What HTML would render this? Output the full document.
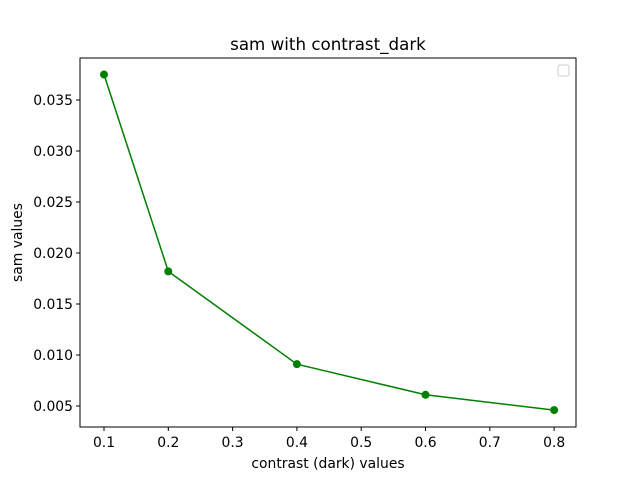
<!DOCTYPE html>
<html><head><meta charset="utf-8"><style>body{margin:0;background:#fff}svg{display:block;font-family:"DejaVu Sans","Liberation Sans",sans-serif}</style></head>
<body>
<svg id="c" width="640" height="480"></svg>
<script>
const xValues=[0.1,0.2,0.4,0.6,0.8];
const samValues=[0.0375,0.0182,0.0091,0.0061,0.0046];
const xTicks=[0.1,0.2,0.3,0.4,0.5,0.6,0.7,0.8];
const yTicks=[0.005,0.010,0.015,0.020,0.025,0.030,0.035];
const L=80,R=576,T=58,B=427;
const xMin=0.0627,xMax=0.834,yMin=0.00294,yMax=0.03912;
function sx(v){return L+(v-xMin)/(xMax-xMin)*(R-L);}
function sy(v){return B-(v-yMin)/(yMax-yMin)*(B-T);}
const svg=document.getElementById('c');const NS='http://www.w3.org/2000/svg';
function mk(t,a,p){const e=document.createElementNS(NS,t);for(const k in a)e.setAttribute(k,a[k]);(p||svg).appendChild(e);return e;}
let e;
e=mk('rect',{x:L,y:T,width:R-L,height:B-T,fill:'none',stroke:'#000','stroke-width':1});


xTicks.forEach(v=>{const x=sx(v);
e=mk('line',{x1:x,x2:x,y1:B,y2:B+4,stroke:'#000'});


e=mk('text',{x:x,y:B+20,'font-size':13.9,'text-anchor':'middle'});e.textContent=v.toFixed(1);

});
yTicks.forEach(v=>{const y=sy(v);
e=mk('line',{x1:L-4,x2:L,y1:y,y2:y,stroke:'#000'});


e=mk('text',{x:L-7,y:y+5,'font-size':13.9,'text-anchor':'end'});e.textContent=v.toFixed(3);

});
e=mk('polyline',{points:xValues.map((v,i)=>sx(v)+','+sy(samValues[i])).join(' '),fill:'none',stroke:'#008000','stroke-width':1.5});


xValues.forEach((v,i)=>{e=mk('circle',{cx:sx(v),cy:sy(samValues[i]),r:4,fill:'#008000'});

});
e=mk('text',{x:(L+R)/2,y:T-8,'font-size':16.7,'text-anchor':'middle'});e.textContent='sam with contrast_dark';


e=mk('text',{x:(L+R)/2,y:468,'font-size':13.9,'text-anchor':'middle'});e.textContent='contrast (dark) values';


e=mk('text',{x:0,y:0,'font-size':13.9,'text-anchor':'middle',transform:'translate(22,'+((T+B)/2)+') rotate(-90)'});e.textContent='sam values';


e=mk('rect',{x:558,y:65,width:11,height:11,rx:2,fill:'#fff',stroke:'#ccc'});


</script>
</body></html>
